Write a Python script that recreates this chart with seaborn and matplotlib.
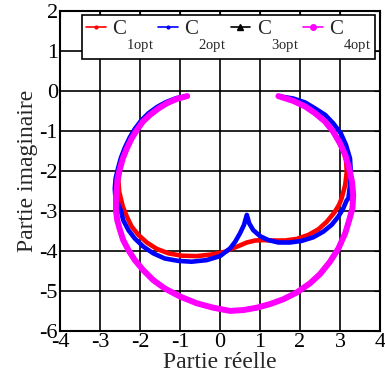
import numpy as np
import pandas as pd
import matplotlib
matplotlib.use("Agg")
import matplotlib.pyplot as plt
import matplotlib._mathtext as mathtext_internal
from matplotlib.lines import Line2D
import seaborn as sns

# C1opt (red)
c1_re = [-0.82, -1.08, -1.33, -1.54, -1.75, -1.93, -2.08, -2.21, -2.33, -2.43, -2.50, -2.54,
         -2.52, -2.43, -2.33, -2.21, -2.04, -1.83, -1.58, -1.29, -0.96, -0.58, -0.21, 0.13,
         0.25, 0.46, 0.67, 0.88, 1.08, 1.33, 1.63, 1.92, 2.21, 2.46, 2.67, 2.86, 2.98, 3.04,
         3.13, 3.17, 3.15, 3.08, 2.98, 2.83, 2.63, 2.38, 2.13, 1.83, 1.46]
c1_im = [-0.14, -0.21, -0.32, -0.45, -0.61, -0.78, -0.99, -1.20, -1.45, -1.70, -1.95, -2.25,
         -2.53, -2.90, -3.15, -3.40, -3.61, -3.80, -3.96, -4.07, -4.13, -4.14, -4.10, -4.03,
         -3.97, -3.89, -3.80, -3.75, -3.74, -3.75, -3.75, -3.71, -3.61, -3.47, -3.28, -3.05,
         -2.85, -2.70, -2.36, -2.03, -1.74, -1.50, -1.30, -1.03, -0.78, -0.57, -0.40, -0.26,
         -0.14]

# C2opt (blue)
c2_re = [-0.82, -1.09, -1.35, -1.57, -1.79, -1.97, -2.13, -2.26, -2.38, -2.48, -2.55, -2.61,
         -2.63, -2.62, -2.56, -2.48, -2.42, -2.29, -2.13, -1.92, -1.67, -1.38, -1.04, -0.71,
         -0.33, 0.00, 0.25, 0.38, 0.50, 0.60, 0.67, 0.73, 0.83, 1.00, 1.21, 1.46, 1.75, 2.04,
         2.33, 2.58, 2.79, 2.96, 3.08, 3.17, 3.21, 3.25, 3.27, 3.25, 3.15, 3.02, 2.83, 2.63,
         2.38, 2.13, 1.83, 1.46]
c2_im = [-0.14, -0.19, -0.29, -0.41, -0.57, -0.75, -0.96, -1.18, -1.43, -1.69, -1.95, -2.20,
         -2.45, -2.60, -2.80, -3.00, -3.24, -3.49, -3.70, -3.90, -4.07, -4.20, -4.26, -4.28,
         -4.24, -4.14, -3.95, -3.78, -3.57, -3.36, -3.11, -3.32, -3.49, -3.64, -3.74, -3.80,
         -3.80, -3.76, -3.67, -3.53, -3.36, -3.15, -2.95, -2.74, -2.70, -2.36, -2.03, -1.70,
         -1.36, -1.07, -0.82, -0.61, -0.45, -0.30, -0.20, -0.14]

# C4opt (magenta), C3opt lies underneath it
c4_re = [-0.82, -1.08, -1.33, -1.54, -1.75, -1.93, -2.08, -2.21, -2.33, -2.43, -2.50, -2.56,
         -2.58, -2.60, -2.60, -2.57, -2.50, -2.42, -2.29, -2.13, -1.92, -1.67, -1.38, -1.00,
         -0.58, -0.17, 0.25, 0.58, 0.92, 1.25, 1.58, 1.92, 2.25, 2.50, 2.75, 2.96, 3.13, 3.23,
         3.31, 3.33, 3.30, 3.23, 3.13, 3.00, 2.83, 2.63, 2.38, 2.13, 1.83, 1.46]
c4_im = [-0.14, -0.21, -0.32, -0.45, -0.61, -0.78, -0.99, -1.20, -1.45, -1.70, -1.95, -2.20,
         -2.45, -2.70, -3.00, -3.24, -3.49, -3.74, -3.99, -4.24, -4.49, -4.74, -4.95, -5.15,
         -5.32, -5.43, -5.51, -5.49, -5.43, -5.34, -5.22, -5.05, -4.82, -4.59, -4.28, -3.95,
         -3.57, -3.24, -2.95, -2.61, -2.28, -1.95, -1.61, -1.32, -1.03, -0.78, -0.57, -0.40,
         -0.26, -0.14]
c3_re = c4_re
c3_im = c4_im

labels = [r'C$_{\rm 1opt}$', r'C$_{\rm 2opt}$', r'C$_{\rm 3opt}$', r'C$_{\rm 4opt}$']
colors = ['red', 'blue', 'black', 'magenta']
markers = ['.', '.', '^', 'o']
widths = [3.3, 3.3, 3.3, 4.3]

sns.set_style("white")
plt.rcParams['font.family'] = ['Liberation Serif']
plt.rcParams['mathtext.fontset'] = 'custom'
plt.rcParams['mathtext.rm'] = 'Liberation Serif'
plt.rcParams['axes.unicode_minus'] = False
# push subscripts lower, like the original figure
mathtext_internal.FontConstantsBase.sub1 = 1.3

fig = plt.figure(figsize=(3.85, 3.83), dpi=100)
ax = fig.add_axes([60 / 385, 1 - 330.5 / 383, 320 / 385, 320 / 383])

curves = [(c1_re, c1_im), (c2_re, c2_im), (c3_re, c3_im), (c4_re, c4_im)]
for (re, im), col, lw in zip(curves, colors, widths):
    df = pd.DataFrame({'re': re, 'im': im})
    sns.lineplot(data=df, x='re', y='im', sort=False, estimator=None, color=col,
                 linewidth=lw, solid_capstyle='round', solid_joinstyle='round', ax=ax)

ax.set_xlim(-4, 4)
ax.set_ylim(-6, 2)
ax.set_xticks(np.arange(-4, 5, 1))
ax.set_yticks(np.arange(-6, 3, 1))
ax.grid(True, color='black', linewidth=1.2)
ax.set_axisbelow(True)
ax.tick_params(direction='in', length=4, labelsize=16, pad=1.5, top=True, right=True, colors='black')
for s in ax.spines.values():
    s.set_color('black')
    s.set_linewidth(1.5)
ax.set_xlabel('Partie réelle', fontsize=17, labelpad=0)
ax.set_ylabel('Partie imaginaire', fontsize=17, labelpad=1)

handles = [Line2D([], [], color=c, marker=m, markersize=4, linewidth=1.2)
           for c, m in zip(colors, markers)]
leg = ax.legend(handles, labels, ncol=4, loc='upper right', bbox_to_anchor=(0.984, 0.986),
                fontsize=15, frameon=True, fancybox=False, framealpha=1, edgecolor='black',
                handlelength=0.95, handletextpad=0.3, columnspacing=0.2, borderpad=0.2,
                borderaxespad=0)
leg.get_frame().set_linewidth(1.2)

fig.savefig('out.png', dpi=100)
